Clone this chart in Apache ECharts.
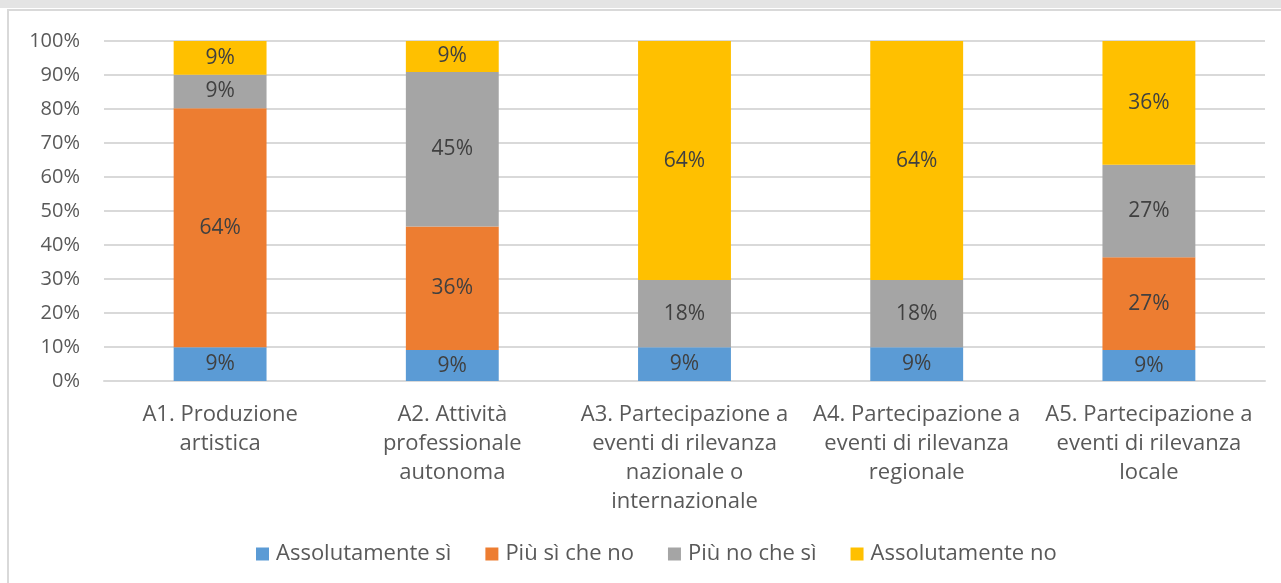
<!DOCTYPE html>
<html>
<head>
<meta charset="utf-8">
<script src="https://cdn.jsdelivr.net/npm/echarts@6/dist/echarts.min.js"></script>
<style>
  html, body { margin: 0; padding: 0; background: #fff; }
  #chart { width: 1281px; height: 583px; }
</style>
</head>
<body>
<div id="chart"></div>
<script>
  const categories = [
    'A1. Produzione\nartistica',
    'A2. Attività\nprofessionale\nautonoma',
    'A3. Partecipazione a\neventi di rilevanza\nnazionale o\ninternazionale',
    'A4. Partecipazione a\neventi di rilevanza\nregionale',
    'A5. Partecipazione a\neventi di rilevanza\nlocale'
  ];
  const seriesNames = ['Assolutamente sì', 'Più sì che no', 'Più no che sì', 'Assolutamente no'];
  const assolutamenteSi = [9, 9, 9, 9, 9];
  const piuSiCheNo = [64, 36, 0, 0, 27];
  const piuNoCheSi = [9, 45, 18, 18, 27];
  const assolutamenteNo = [9, 9, 64, 64, 36];
  const yTicks = [0, 10, 20, 30, 40, 50, 60, 70, 80, 90, 100];

  const colors = ['#5B9BD5', '#ED7D31', '#A5A5A5', '#FFC000'];
  const raw = [assolutamenteSi, piuSiCheNo, piuNoCheSi, assolutamenteNo];
  // 100% stacked: each column is scaled to its own total
  const totals = categories.map((c, i) => raw.reduce((s, arr) => s + arr[i], 0));

  const font = '"Open Sans", Roboto, sans-serif';

  let myChart = echarts.init(document.getElementById('chart'));
  myChart.setOption({
    animation: false,
    graphic: [
      { type: 'rect', shape: { x: 0, y: 0, width: 1281, height: 8 }, style: { fill: '#e4e4e4' } },
      { type: 'rect', shape: { x: 8, y: 10, width: 1281, height: 600 }, style: { fill: 'none', stroke: '#d9d9d9', lineWidth: 2 } }
    ],
    grid: { left: 104, right: 16, top: 41, bottom: 202 },
    xAxis: {
      type: 'category',
      data: categories,
      axisLine: { lineStyle: { color: '#d9d9d9', width: 2 } },
      axisTick: { show: false },
      axisLabel: {
        color: '#595959',
        fontFamily: font,
        fontSize: 22,
        lineHeight: 29,
        margin: 19,
        interval: 0
      }
    },
    yAxis: {
      type: 'value',
      min: yTicks[0],
      max: yTicks[yTicks.length - 1],
      interval: 10,
      axisLabel: {
        formatter: '{value}%',
        color: '#595959',
        fontFamily: font,
        fontSize: 20,
        margin: 24
      },
      splitLine: { lineStyle: { color: '#d9d9d9', width: 2 } }
    },
    legend: {
      top: 538,
      left: 251,
      itemWidth: 13,
      itemHeight: 13,
      itemGap: 34,
      icon: 'rect',
      textStyle: { color: '#595959', fontFamily: font, fontSize: 22, padding: [0, 0, 0, 2] },
      data: seriesNames
    },
    series: raw.map((arr, k) => ({
      name: seriesNames[k],
      type: 'bar',
      stack: 'total',
      barWidth: '40%',
      itemStyle: { color: colors[k] },
      label: {
        show: true,
        position: 'inside',
        color: '#404040',
        fontFamily: font,
        fontSize: 21,
        formatter: p => arr[p.dataIndex] ? arr[p.dataIndex] + '%' : ''
      },
      data: arr.map((v, i) => v / totals[i] * 100)
    }))
  });
</script>
</body>
</html>
